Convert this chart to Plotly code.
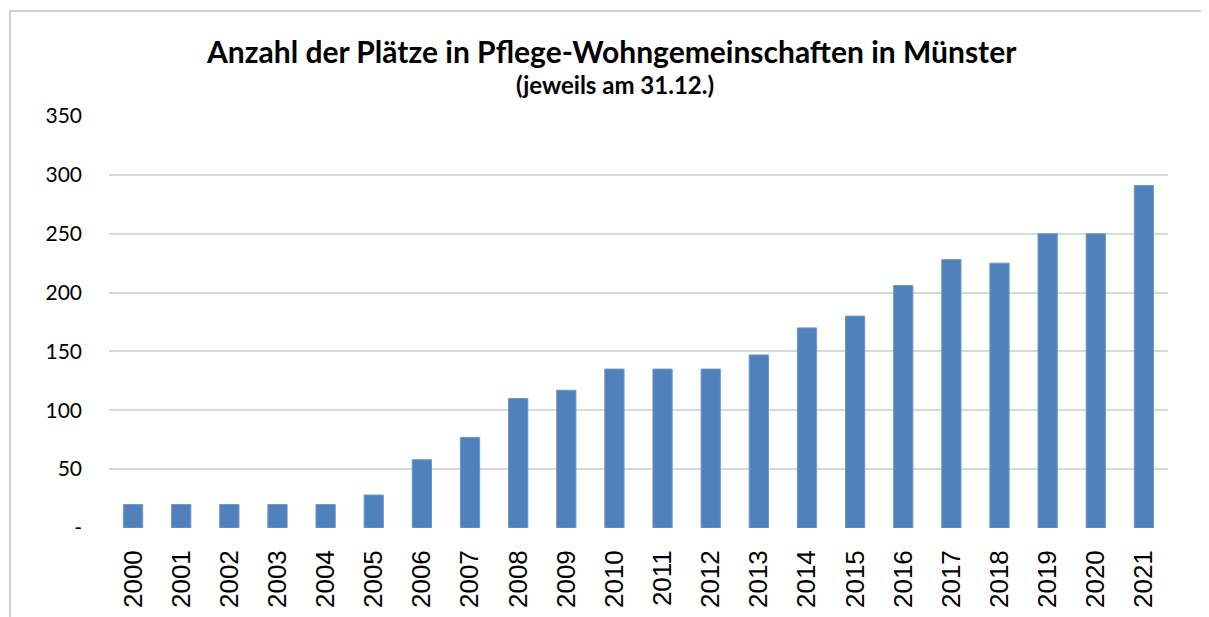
import plotly.graph_objects as go

years = [str(y) for y in range(2000, 2022)]
plaetze = [20, 20, 20, 20, 20, 28, 58, 77, 110, 117, 135, 135, 135, 147,
           170, 180, 206, 228, 225, 250, 250, 291]

y_tickvals = [0, 50, 100, 150, 200, 250, 300, 350]
y_ticktext = ["-", "50", "100", "150", "200", "250", "300", "350"]

title_text = "Anzahl der Plätze in Pflege-Wohngemeinschaften in Münster"
subtitle_text = "(jeweils am 31.12.)"

# page body has an 8px offset; work in screen pixels and convert
OFF = 8
W, H = 1209 - OFF, 617 - OFF
PL, PR, PT, PB = 109, 1168, 116, 528  # plot area in screen pixels
L, R, T, B = PL - OFF, (W + OFF) - PR, PT - OFF, (H + OFF) - PB
pw, ph = W - L - R, H - T - B

def px_x(x):
    return (x - PL) / pw

def px_y(y):
    return (PB - y) / ph

fig = go.Figure()
fig.add_trace(go.Bar(
    x=years, y=plaetze, width=0.4,
    marker=dict(color="#4F81BD", line=dict(color="#7096C8", width=1)),
))

fig.update_layout(
    width=W, height=H,
    margin=dict(l=L, r=R, t=T, b=B, pad=0, autoexpand=False),
    plot_bgcolor="white", paper_bgcolor="white",
    showlegend=False,
    bargap=0.6,
    xaxis=dict(
        type="category", tickangle=-90, showgrid=False, zeroline=False,
        showline=False, ticks="", automargin=False,
        tickfont=dict(family="Liberation Sans, Arial", size=26, color="#000000"),
        ticklabelstandoff=16,
    ),
    yaxis=dict(
        range=[0, 350], tickvals=y_tickvals, ticktext=y_ticktext,
        showgrid=True, gridcolor="#D9D9D9", gridwidth=1.5,
        zeroline=False, showline=False, ticks="", automargin=False,
        tickfont=dict(family="Lato, Liberation Sans", size=21, color="#000000"),
        ticklabelstandoff=26,
    ),
    annotations=[
        dict(text="<b>" + title_text + "</b>", x=px_x(611), y=px_y(51),
             xref="paper", yref="paper", showarrow=False,
             xanchor="center", yanchor="middle",
             font=dict(family="Lato", size=30, color="#000000")),
        dict(text="<b>" + subtitle_text + "</b>", x=px_x(615), y=px_y(84),
             xref="paper", yref="paper", showarrow=False,
             xanchor="center", yanchor="middle",
             font=dict(family="Lato", size=24, color="#000000")),
    ],
    shapes=[
        dict(type="line", xref="paper", yref="paper",
             x0=px_x(10), x1=px_x(1215), y0=px_y(11), y1=px_y(11),
             line=dict(color="#BFBFBF", width=1.5)),
        dict(type="line", xref="paper", yref="paper",
             x0=px_x(10), x1=px_x(10), y0=px_y(11), y1=px_y(625),
             line=dict(color="#BFBFBF", width=1.5)),
    ],
)

fig.write_html("out.html")
